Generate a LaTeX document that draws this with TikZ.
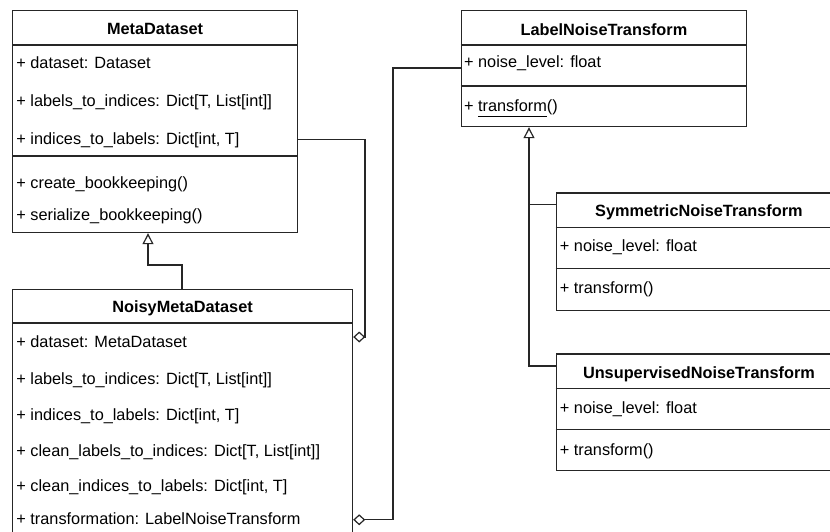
\documentclass[tikz,border=0pt]{standalone}
\usepackage{fontspec}
\setmainfont{Liberation Sans}
\usetikzlibrary{arrows.meta,calc}
\begin{document}
\begin{tikzpicture}[x=1pt,y=-1pt,
  line width=1.2pt,
  umlbox/.style={draw=black!85, fill=white, inner sep=0pt, anchor=north west},
  hdr/.style={font=\fontsize{16.3}{19}\selectfont\bfseries, inner sep=0pt, anchor=base},
  attr/.style={font=\fontsize{16.3}{19}\selectfont, inner sep=0pt, anchor=base west,
    text height=12pt, text depth=3.5pt},
  sep/.style={draw=black!85},
  link/.style={draw=black!85},
  inherit/.style={link, -{Triangle[open, length=11pt, width=11pt, fill=white]}},
  aggr/.style={link, -{Diamond[open, length=12pt, width=11pt, fill=white]}},
]
\useasboundingbox (0,0) rectangle (830,531);
\clip (0,0) rectangle (830,531);

% class boxes
\node[umlbox, minimum width=285pt, minimum height=222pt] (meta) at (12,10) {};
\node[umlbox, minimum width=340pt, minimum height=262pt] (noisy) at (12,289) {};
\node[umlbox, minimum width=285.3pt, minimum height=116pt] (lnt) at (460.7,10) {};
\node[umlbox, minimum width=285.3pt, minimum height=117.3pt] (sym) at (555.7,192.3) {};
\node[umlbox, minimum width=285.3pt, minimum height=116.7pt] (uns) at (555.7,353.3) {};

% compartment separators
\draw[sep] ([yshift=-35pt]meta.north west) -- ([yshift=-35pt]meta.north east);
\draw[sep] ([yshift=-146pt]meta.north west) -- ([yshift=-146pt]meta.north east);
\draw[sep] ([yshift=-34pt]noisy.north west) -- ([yshift=-34pt]noisy.north east);
\draw[sep] ([yshift=-35pt]lnt.north west) -- ([yshift=-35pt]lnt.north east);
\draw[sep] ([yshift=-76pt]lnt.north west) -- ([yshift=-76pt]lnt.north east);
\draw[sep] ([yshift=-35pt]sym.north west) -- ([yshift=-35pt]sym.north east);
\draw[sep] ([yshift=-76pt]sym.north west) -- ([yshift=-76pt]sym.north east);
\draw[sep] ([yshift=-35.5pt]uns.north west) -- ([yshift=-35.5pt]uns.north east);
\draw[sep] ([yshift=-76.5pt]uns.north west) -- ([yshift=-76.5pt]uns.north east);

% MetaDataset
\node[hdr] (mh) at ([yshift=-24pt]meta.north) {MetaDataset};
\node[attr] (m1) at ([xshift=3.8pt,yshift=-58pt]meta.north west) {+ dataset: Dataset};
\node[attr] (m2) at ([xshift=3.8pt,yshift=-96.5pt]meta.north west) {+ labels\_to\_indices: Dict[T, List[int]]};
\node[attr] (m3) at ([xshift=3.8pt,yshift=-134pt]meta.north west) {+ indices\_to\_labels: Dict[int, T]};
\node[attr] (m4) at ([xshift=3.8pt,yshift=-178pt]meta.north west) {+ create\_bookkeeping()};
\node[attr] (m5) at ([xshift=3.8pt,yshift=-210pt]meta.north west) {+ serialize\_bookkeeping()};

% NoisyMetaDataset
\node[hdr] (nh) at ([yshift=-23.7pt]noisy.north) {NoisyMetaDataset};
\node[attr] (n1) at ([xshift=3.8pt,yshift=-58.7pt]noisy.north west) {+ dataset: MetaDataset};
\node[attr] (n2) at ([xshift=3.8pt,yshift=-95pt]noisy.north west) {+ labels\_to\_indices: Dict[T, List[int]]};
\node[attr] (n3) at ([xshift=3.8pt,yshift=-131pt]noisy.north west) {+ indices\_to\_labels: Dict[int, T]};
\node[attr] (n4) at ([xshift=3.8pt,yshift=-167pt]noisy.north west) {+ clean\_labels\_to\_indices: Dict[T, List[int]]};
\node[attr] (n5) at ([xshift=3.8pt,yshift=-202.5pt]noisy.north west) {+ clean\_indices\_to\_labels: Dict[int, T]};
\node[attr] (n6) at ([xshift=3.8pt,yshift=-235pt]noisy.north west) {+ transformation: LabelNoiseTransform};

% LabelNoiseTransform
\node[hdr] (lh) at ([yshift=-25pt]lnt.north) {LabelNoiseTransform};
\node[attr] (l1) at ([xshift=2.8pt,yshift=-57.5pt]lnt.north west) {+ noise\_level: float};
\node[attr] (l2) at ([xshift=2.8pt,yshift=-101.5pt]lnt.north west) {+ \underline{transform\vphantom{g}}()};

% SymmetricNoiseTransform
\node[hdr] (sh) at ([yshift=-24.4pt]sym.north) {SymmetricNoiseTransform};
\node[attr] (s1) at ([xshift=3.6pt,yshift=-59pt]sym.north west) {+ noise\_level: float};
\node[attr] (s2) at ([xshift=3.6pt,yshift=-100.7pt]sym.north west) {+ transform()};

% UnsupervisedNoiseTransform
\node[hdr] (uh) at ([yshift=-25pt]uns.north) {UnsupervisedNoiseTransform};
\node[attr] (u1) at ([xshift=3.6pt,yshift=-59.7pt]uns.north west) {+ noise\_level: float};
\node[attr] (u2) at ([xshift=3.6pt,yshift=-101.7pt]uns.north west) {+ transform()};

% routing points
\coordinate (busA) at (365,0);
\coordinate (busB) at (393,0);
\coordinate (jogA) at (182,265);
\coordinate (jogB) at (148,265);
\coordinate (trunk) at (529,0);
\coordinate (dA) at ([yshift=-48pt]noisy.north east);
\coordinate (lA) at ([yshift=-58pt]lnt.north west);
\coordinate (sA) at ([yshift=-12pt]sym.north west);
\coordinate (uA) at ([yshift=-12.7pt]uns.north west);

% aggregations
\draw[aggr] (meta.east |- m3.west) -- (busA |- m3.west) -- (busA |- dA) -- (dA);
\draw[aggr] (lA) -- (busB |- lA) -- (busB |- n6.west) -- (noisy.east |- n6.west);

% generalizations
\draw[inherit] (jogA |- noisy.north) -- (jogA) -- (jogB) -- (jogB |- meta.south);
\draw[inherit] (sA) -- (trunk |- sA) -- (trunk |- lnt.south);
\draw[link] (uA) -- (trunk |- uA) -- (trunk |- sA);
\end{tikzpicture}
\end{document}
